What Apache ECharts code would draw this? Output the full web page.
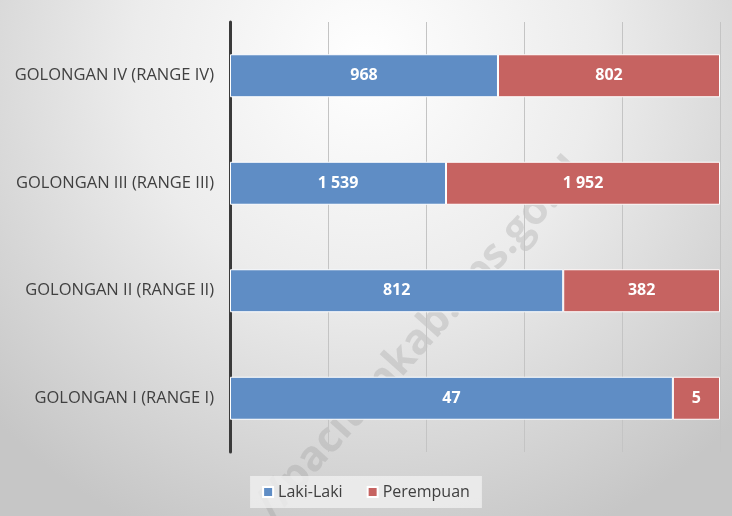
<!DOCTYPE html>
<html>
<head>
<meta charset="utf-8">
<script src="https://cdn.jsdelivr.net/npm/echarts@6/dist/echarts.min.js"></script>
<style>
  html, body { margin: 0; padding: 0; }
  #chart { width: 732px; height: 516px; }
</style>
</head>
<body>
<div id="chart"></div>
<script>
// categories bottom -> top
const categories = ["GOLONGAN I (RANGE I)", "GOLONGAN II (RANGE II)", "GOLONGAN III (RANGE III)", "GOLONGAN IV (RANGE IV)"];
const lakiLaki = [47, 812, 1539, 968];
const perempuan = [5, 382, 1952, 802];

const totals = lakiLaki.map((v, i) => v + perempuan[i]);
const fmt = (n) => String(n).replace(/\B(?=(\d{3})+(?!\d))/g, " ");

const chart = echarts.init(document.getElementById("chart"));

const labelStyle = {
  show: true,
  position: "inside",
  color: "#ffffff",
  fontFamily: "Open Sans",
  fontWeight: "bold",
  fontSize: 16,
};

chart.setOption({
  backgroundColor: {
    type: "radial",
    x: 0.5, y: 0.12, r: 1.0,
    colorStops: [
      { offset: 0, color: "#ffffff" },
      { offset: 0.45, color: "#ececec" },
      { offset: 1, color: "#c6c6c6" },
    ],
  },
  animation: false,
  graphic: [
    {
      type: "text",
      left: 248, top: 150,
      rotation: Math.PI * 48 / 180,
      style: {
        text: "//pacitankab.bps.go.id",
        fill: "rgba(140,140,140,0.25)",
        font: "bold 42px 'Open Sans'",
      },
      silent: true,
    },
  ],
  grid: { left: 230, right: 12, top: 22, bottom: 64 },
  legend: {
    bottom: 8,
    left: "center",
    itemWidth: 10,
    itemHeight: 10,
    itemGap: 24,
    icon: "rect",
    padding: [8, 12],
    backgroundColor: "rgba(240,240,240,0.8)",
    textStyle: { color: "#404040", fontSize: 16, fontFamily: "Open Sans" },
    data: ["Laki-Laki", "Perempuan"],
  },
  xAxis: {
    type: "value",
    min: 0,
    max: 100,
    interval: 20,
    axisLabel: { show: false },
    axisLine: { show: false },
    axisTick: { show: false },
    splitLine: { lineStyle: { color: "#c4c4c4", width: 1 } },
  },
  yAxis: {
    type: "category",
    data: categories,
    axisLine: { lineStyle: { color: "#3a3a3a", width: 3 } },
    axisTick: { show: false },
    axisLabel: { color: "#404040", fontSize: 16.5, fontFamily: "Open Sans", margin: 16 },
  },
  series: [
    {
      name: "Laki-Laki",
      type: "bar",
      stack: "total",
      barWidth: "40%",
      data: lakiLaki.map((v, i) => (v / totals[i]) * 100),
      itemStyle: { color: "#5f8dc5", borderColor: "#ffffff", borderWidth: 1 },
      label: Object.assign({}, labelStyle, { formatter: (p) => fmt(lakiLaki[p.dataIndex]) }),
    },
    {
      name: "Perempuan",
      type: "bar",
      stack: "total",
      barWidth: "40%",
      data: perempuan.map((v, i) => (v / totals[i]) * 100),
      itemStyle: { color: "#c66361", borderColor: "#ffffff", borderWidth: 1 },
      label: Object.assign({}, labelStyle, { formatter: (p) => fmt(perempuan[p.dataIndex]) }),
    },
  ],
});
</script>
</body>
</html>
